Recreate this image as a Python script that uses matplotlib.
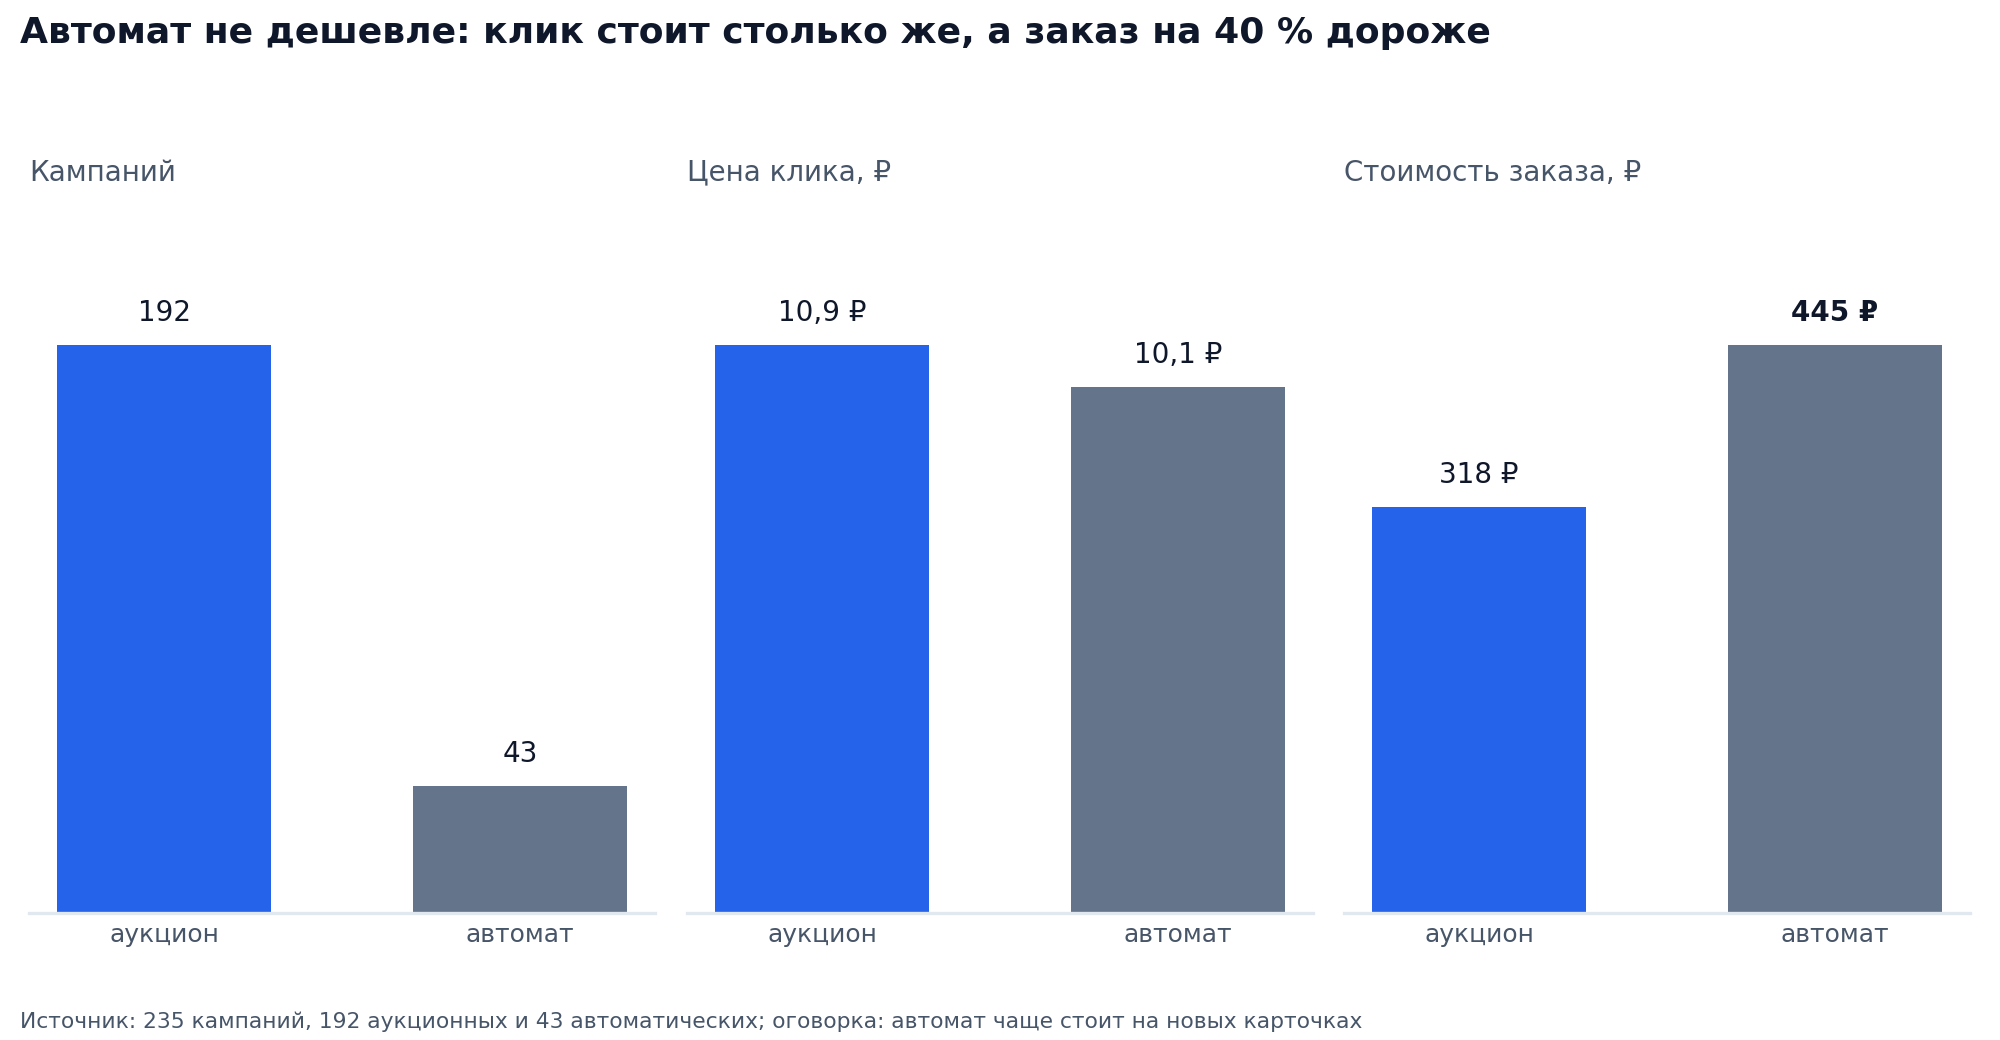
import matplotlib
matplotlib.use("Agg")
import matplotlib.pyplot as plt

plt.rcParams['font.family'] = ['DejaVu Sans']

categories = ["аукцион", "автомат"]
panel_titles = ["Кампаний", "Цена клика, ₽", "Стоимость заказа, ₽"]
campaigns = [192, 43]
click_price = [10.9, 10.1]
order_cost = [318, 445]
value_labels = [["192", "43"], ["10,9 ₽", "10,1 ₽"], ["318 ₽", "445 ₽"]]
bold_label = [[False, False], [False, False], [False, True]]

title = "Автомат не дешевле: клик стоит столько же, а заказ на 40 % дороже"
footer = "Источник: 235 кампаний, 192 аукционных и 43 автоматических; оговорка: автомат чаще стоит на новых карточках"

BLUE = "#2563EB"
GRAY = "#64748B"
DARK = "#0F172A"
MUTED = "#475569"
LINE = "#E2E8F0"

fig = plt.figure(figsize=(10, 5.2), dpi=200)
W, H = 2000, 1040
lefts = [29, 687, 1344]
aw = 626
bottom_px = 913
top_px = 200

series = [campaigns, click_price, order_cost]
for i, vals in enumerate(series):
    ax = fig.add_axes([lefts[i] / W, 1 - bottom_px / H, aw / W, (bottom_px - top_px) / H])
    x = list(range(len(categories)))
    bars = ax.bar(x, vals, width=0.6, color=[BLUE, GRAY])
    ax.set_xlim(-0.38, 1.38)
    ax.set_ylim(0, max(vals) * 1.255)
    for s in ["top", "right", "left"]:
        ax.spines[s].set_visible(False)
    ax.spines["bottom"].set_color(LINE)
    ax.spines["bottom"].set_linewidth(1.2)
    ax.set_yticks([])
    ax.set_xticks(x)
    ax.set_xticklabels(categories, fontsize=9, color=MUTED)
    ax.tick_params(axis="x", length=0, pad=3.5)
    ax.set_title(panel_titles[i], loc="left", fontsize=10, color=MUTED, pad=7)
    for j, b in enumerate(bars):
        ax.annotate(value_labels[i][j], (b.get_x() + b.get_width() / 2, b.get_height()),
                    xytext=(0, 6.5), textcoords="offset points", ha="center", va="bottom",
                    fontsize=10, color=DARK,
                    fontweight="bold" if bold_label[i][j] else "normal")

fig.text(20 / W, 1 - 33 / H, title, fontsize=13, fontweight="bold", color=DARK,
         ha="left", va="center")
fig.text(20 / W, 1 - 1022 / H, footer, fontsize=7.83, color=MUTED, ha="left", va="center")

fig.savefig("out.png", dpi=200, facecolor="white")
